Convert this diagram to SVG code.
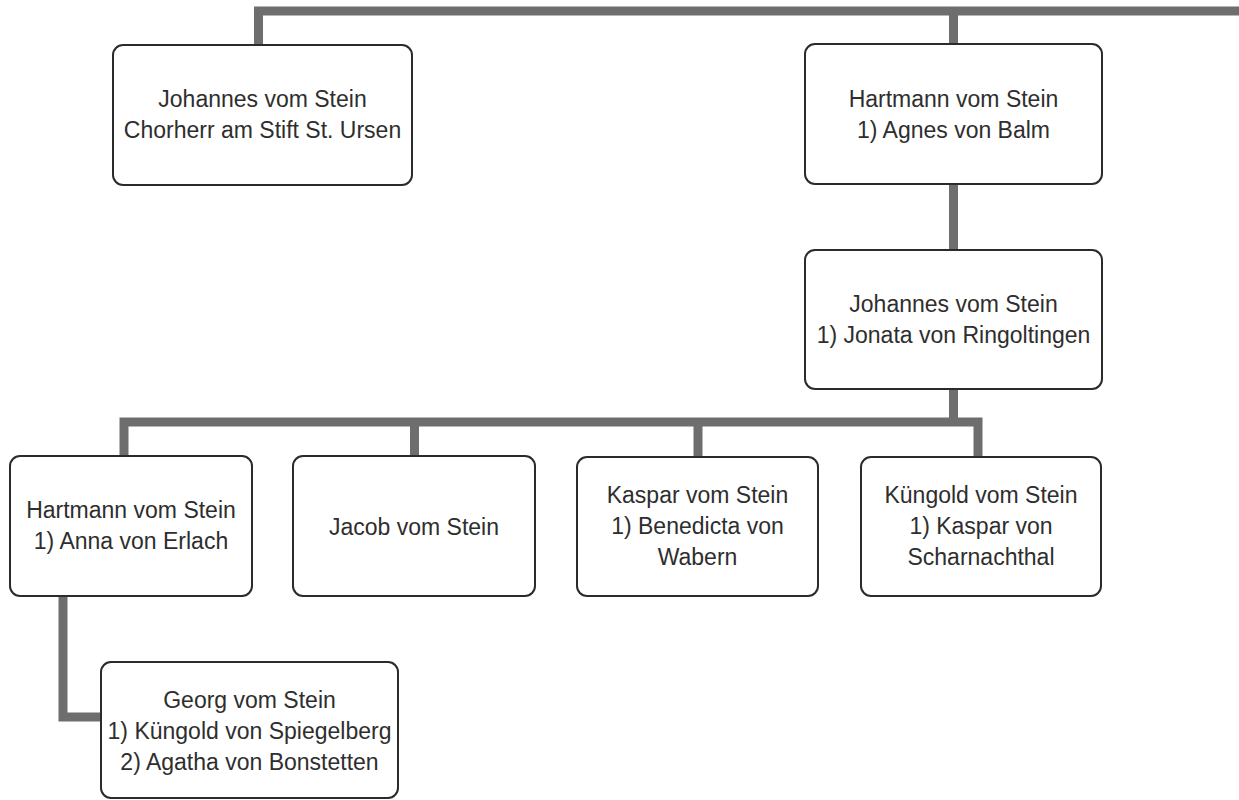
<svg xmlns="http://www.w3.org/2000/svg" width="1239" height="800" viewBox="0 0 1239 800">
  <style>
    .box { fill: #ffffff; stroke: #2b2b2b; stroke-width: 2; }
    .lbl { font-family: "Liberation Sans", Arial, sans-serif; font-size: 23px; fill: #2e2e2e; text-anchor: middle; }
    .con { fill: none; stroke: #6e6e6e; stroke-width: 9; stroke-linejoin: miter; stroke-linecap: butt; }
  </style>
  <rect width="1239" height="800" fill="#ffffff"/>
  <g id="connectors">
    <path class="con" d="M258.5 45 V11 H1239 M953.5 11 V44 M953.5 184 V250 M953.5 389 V422"/>
    <path class="con" d="M124 456 V422 H978 V457 M414.5 422 V456 M698 422 V457"/>
    <path class="con" d="M63 596 V717 H101"/>
  </g>
  <g id="n1">
    <rect class="box" x="113" y="45" width="299" height="140" rx="10"/>
    <text class="lbl" x="262.5" y="107">Johannes vom Stein</text>
    <text class="lbl" x="262.5" y="138">Chorherr am Stift St. Ursen</text>
  </g>
  <g id="n2">
    <rect class="box" x="805" y="44" width="297" height="140" rx="10"/>
    <text class="lbl" x="953.5" y="107">Hartmann vom Stein</text>
    <text class="lbl" x="953.5" y="138">1) Agnes von Balm</text>
  </g>
  <g id="n3">
    <rect class="box" x="805" y="250" width="297" height="139" rx="10"/>
    <text class="lbl" x="953.5" y="312">Johannes vom Stein</text>
    <text class="lbl" x="953.5" y="343">1) Jonata von Ringoltingen</text>
  </g>
  <g id="n4">
    <rect class="box" x="10" y="456" width="242" height="140" rx="10"/>
    <text class="lbl" x="131" y="518">Hartmann vom Stein</text>
    <text class="lbl" x="131" y="549">1) Anna von Erlach</text>
  </g>
  <g id="n5">
    <rect class="box" x="293" y="456" width="242" height="140" rx="10"/>
    <text class="lbl" x="414" y="535">Jacob vom Stein</text>
  </g>
  <g id="n6">
    <rect class="box" x="577" y="457" width="241" height="139" rx="10"/>
    <text class="lbl" x="697.5" y="503">Kaspar vom Stein</text>
    <text class="lbl" x="697.5" y="534">1) Benedicta von</text>
    <text class="lbl" x="697.5" y="565">Wabern</text>
  </g>
  <g id="n7">
    <rect class="box" x="861" y="457" width="240" height="139" rx="10"/>
    <text class="lbl" x="981" y="503">Küngold vom Stein</text>
    <text class="lbl" x="981" y="534">1) Kaspar von</text>
    <text class="lbl" x="981" y="565">Scharnachthal</text>
  </g>
  <g id="n8">
    <rect class="box" x="101" y="662" width="297" height="136" rx="10"/>
    <text class="lbl" x="249.5" y="708">Georg vom Stein</text>
    <text class="lbl" x="249.5" y="739">1) Küngold von Spiegelberg</text>
    <text class="lbl" x="249.5" y="770">2) Agatha von Bonstetten</text>
  </g>
</svg>
